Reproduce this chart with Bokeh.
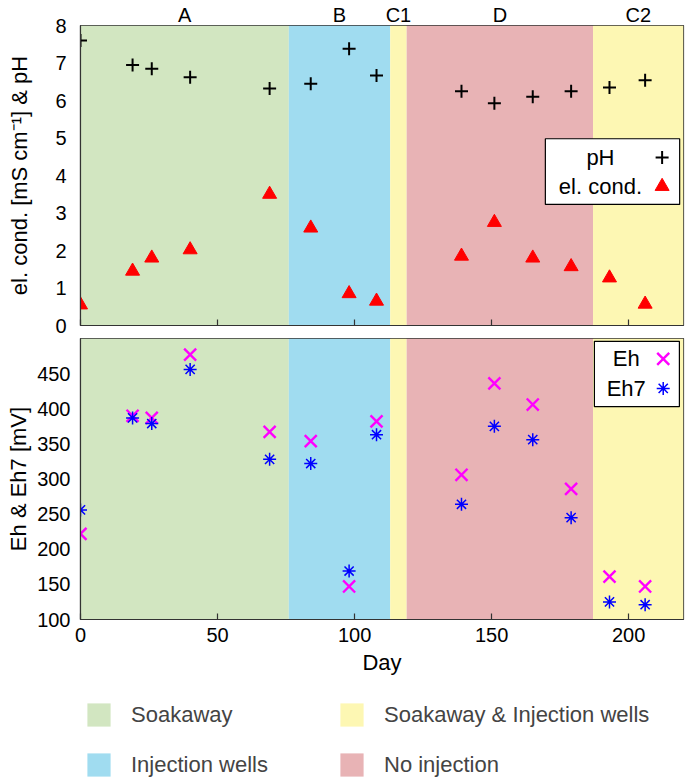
from bokeh.plotting import figure
from bokeh.models import (ColumnDataSource, Legend, LegendItem, LinearAxis,
                          FixedTicker, Range1d)
from bokeh.layouts import column
from bokeh.embed import file_html
from bokeh.resources import INLINE
from bokeh.core.properties import value

# ---------------- data ----------------
days = [0, 19, 26, 40, 69, 84, 98, 108, 139, 151, 165, 179, 193, 206]
ph = [7.6, 6.95, 6.85, 6.62, 6.32, 6.45, 7.38, 6.67, 6.25, 5.93, 6.1, 6.25, 6.35, 6.54]
el_cond = [0.55, 1.45, 1.8, 2.02, 3.5, 2.6, 0.85, 0.65, 1.85, 2.75, 1.8, 1.57, 1.27, 0.57]
eh = [222, 390, 387, 477, 367, 354, 147, 382, 306, 436, 406, 286, 161, 147]
eh7 = [256, 387, 379, 456, 328, 322, 169, 363, 264, 375, 356, 245, 125, 121]

band_start = [0, 76, 113, 119, 187]
band_end = [76, 113, 119, 187, 220]
band_names = ["A", "B", "C1", "D", "C2"]
band_colors = ["#d2e6c1", "#a0dcf0", "#fdf7b3", "#e8b3b5", "#fdf7b3"]
phase_labels = ["Soakaway", "Injection wells", "Soakaway & Injection wells", "No injection"]
phase_index = [0, 1, 2, 3]

x_ticks = [0, 50, 100, 150, 200]
top_y_ticks = [0, 1, 2, 3, 4, 5, 6, 7, 8]
bot_y_ticks = [100, 150, 200, 250, 300, 350, 400, 450]

FONT = "Liberation Sans"
AX = "#333333"
W = 685

band_centers = [(s + e) / 2 for s, e in zip(band_start, band_end)]
band_src = ColumnDataSource(dict(left=band_start, right=band_end,
                                 color=band_colors, name=band_names,
                                 xc=band_centers))


def style(p, yticks):
    p.grid.visible = False
    p.outline_line_color = AX
    p.outline_line_width = 1.2
    p.background_fill_color = "white"
    p.border_fill_color = "white"
    for ax in (p.xaxis[0], p.yaxis[0]):
        ax.axis_line_color = AX
        ax.axis_line_width = 1.2
        ax.minor_tick_line_color = None
        ax.major_label_text_font = FONT
        ax.major_label_text_font_size = "20px"
        ax.major_label_text_color = "black"
        ax.axis_label_text_font = FONT
        ax.axis_label_text_font_size = "22px"
        ax.axis_label_text_font_style = "normal"
        ax.axis_label_text_color = "black"
    p.xaxis.ticker = FixedTicker(ticks=x_ticks)
    p.xaxis.major_tick_in = 6
    p.xaxis.major_tick_out = 0
    p.xaxis.major_tick_line_color = AX
    p.xaxis.major_tick_line_width = 1.2
    p.yaxis.ticker = FixedTicker(ticks=yticks)
    p.yaxis.major_tick_in = 0
    p.yaxis.major_tick_out = 0


# ---------------- top panel ----------------
p1 = figure(width=W, height=337, x_range=Range1d(0, 220), y_range=Range1d(0, 8),
            output_backend="svg", toolbar_location=None,
            min_border_left=80, min_border_right=2, min_border_top=0,
            min_border_bottom=12)
style(p1, top_y_ticks)
p1.xaxis.major_label_overrides = {t: "" for t in x_ticks}
p1.xaxis.major_label_standoff = 0
p1.yaxis.axis_label = "el. cond. [mS cm\u207b\u00b9] & pH"
p1.yaxis.major_label_standoff = 14
p1.yaxis.axis_label_standoff = 20

# phase names above the top panel
phase_axis = LinearAxis(ticker=FixedTicker(ticks=band_centers),
                        major_label_overrides={c: n for c, n in zip(band_centers, band_names)},
                        axis_line_color=None, major_tick_line_color=None,
                        major_tick_in=0, major_tick_out=0,
                        minor_tick_line_color=None, minor_tick_in=0, minor_tick_out=0,
                        major_label_standoff=0,
                        major_label_text_font=FONT, major_label_text_font_size="20px",
                        major_label_text_color="black")
p1.add_layout(phase_axis, "above")

p1.quad(left="left", right="right", bottom=0, top=8, fill_color="color",
        line_color=None, source=band_src)
p1.scatter(days, ph, marker="cross", size=13, line_color="black", line_width=2)
p1.scatter(days, el_cond, marker="triangle", size=14, fill_color="red",
           line_color="red")

# in-plot legend (label left, marker right)
p1.quad(left=[169.6], right=[218.6], bottom=[3.23], top=[4.98],
        fill_color="white", line_color="black", line_width=1.2)
p1.text(x=[189.7, 189.7], y=[4.48, 3.71], text=["pH", "el. cond."],
        text_align="center", text_baseline="middle", text_font=value(FONT),
        text_font_size="22px", text_color="black")
p1.scatter([212.2], [4.48], marker="cross", size=13, line_color="black", line_width=2)
p1.scatter([212.2], [3.71], marker="triangle", size=14, fill_color="red", line_color="red")

# ---------------- bottom panel ----------------
p2 = figure(width=W, height=351, x_range=Range1d(0, 220), y_range=Range1d(100, 500),
            output_backend="svg", toolbar_location=None,
            min_border_left=80, min_border_right=2, min_border_top=1,
            min_border_bottom=69)
style(p2, bot_y_ticks)
p2.xaxis.axis_label = "Day"
p2.xaxis.major_label_standoff = 8
p2.xaxis.axis_label_standoff = 5
p2.yaxis.axis_label = "Eh & Eh7 [mV]"
p2.yaxis.major_label_standoff = 10
p2.yaxis.axis_label_standoff = 3

p2.quad(left="left", right="right", bottom=100, top=500, fill_color="color",
        line_color=None, source=band_src)
p2.scatter(days, eh, marker="x", size=17, line_color="#ff00ff", line_width=2.4)
p2.scatter(days, eh7, marker="asterisk", size=13, line_color="#0000ff", line_width=1.5)

p2.quad(left=[187.5], right=[218.5], bottom=[403], top=[496],
        fill_color="white", line_color="black", line_width=1.2)
p2.text(x=[199.1, 199.1], y=[471, 429], text=["Eh", "Eh7"],
        text_align="center", text_baseline="middle", text_font=value(FONT),
        text_font_size="22px", text_color="black")
p2.scatter([212.6], [471], marker="x", size=17, line_color="#ff00ff", line_width=2.4)
p2.scatter([212.6], [429], marker="asterisk", size=13, line_color="#0000ff", line_width=1.5)

# ---------------- phase legend ----------------
p3 = figure(width=W, height=93, x_range=Range1d(0, 220), y_range=Range1d(0, 1),
            output_backend="svg", toolbar_location=None,
            min_border_left=80, min_border_right=2, min_border_top=0,
            min_border_bottom=0)
p3.axis.visible = False
p3.grid.visible = False
p3.outline_line_color = None
swatches = p3.quad(left="left", right="right", bottom=0, top=1, fill_color="color",
                   line_color=None, source=band_src, visible=False)
legend = Legend(items=[LegendItem(label=phase_labels[i], renderers=[swatches], index=phase_index[i])
                       for i in range(4)],
                ncols=2, orientation="vertical", location=(4, 2),
                glyph_width=29, glyph_height=29, label_standoff=18,
                label_text_font=FONT, label_text_font_size="22px",
                label_width=185, spacing=21, padding=0, margin=0,
                border_line_color=None, background_fill_alpha=0)
p3.add_layout(legend, "center")

layout = column(p1, p2, p3, spacing=0)
open("out.html", "w").write(file_html(layout, INLINE))
